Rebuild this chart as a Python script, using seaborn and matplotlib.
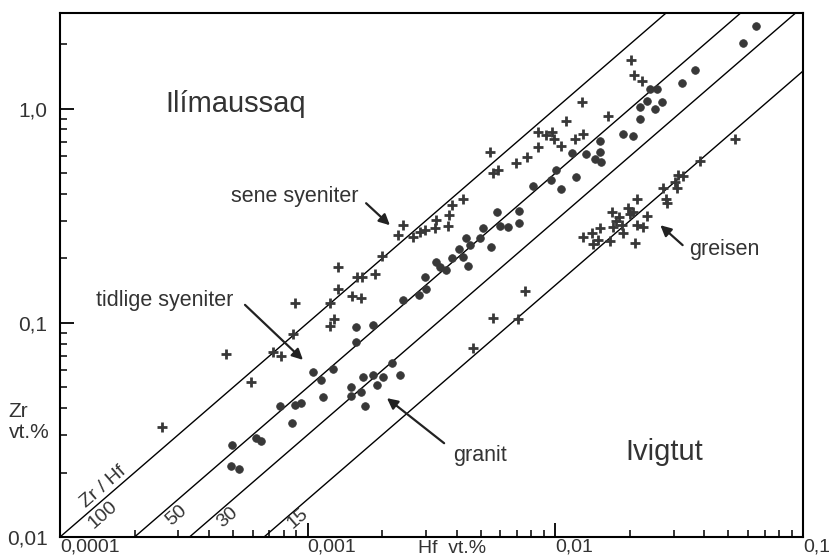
import matplotlib
matplotlib.use("Agg")
import numpy as np
import pandas as pd
import matplotlib.pyplot as plt
import matplotlib.ticker as mticker
import seaborn as sns

# Zr / Hf (vt.%)
# crosses: syenites (Ilimaussaq) + scattered granite samples
cross_hf = [2.58e-4, 4.68e-4, 5.90e-4, 7.24e-4, 7.80e-4, 8.73e-4, 8.89e-4,
            1.23e-3, 1.23e-3, 1.28e-3, 1.32e-3, 1.32e-3, 1.51e-3, 1.64e-3,
            1.58e-3, 1.66e-3, 1.87e-3, 2.00e-3, 2.32e-3, 2.43e-3, 2.66e-3,
            2.84e-3, 2.98e-3, 3.27e-3, 3.30e-3, 3.68e-3, 3.72e-3, 3.83e-3,
            4.24e-3, 5.45e-3, 5.60e-3, 5.86e-3, 6.93e-3, 7.68e-3, 8.51e-3,
            8.51e-3, 9.16e-3, 9.68e-3, 9.87e-3, 1.05e-2, 1.10e-2, 1.20e-2,
            1.29e-2, 1.28e-2, 1.63e-2, 2.02e-2, 2.08e-2, 2.24e-2, 5.31e-2,
            3.84e-2, 7.54e-3, 5.60e-3, 7.06e-3, 4.65e-3]
cross_zr = [0.0327, 0.0716, 0.0530, 0.0732, 0.0701, 0.0889, 0.124,
            0.124, 0.0968, 0.104, 0.144, 0.183, 0.134, 0.131,
            0.164, 0.164, 0.169, 0.206, 0.258, 0.287, 0.252,
            0.266, 0.272, 0.278, 0.303, 0.284, 0.320, 0.356,
            0.380, 0.630, 0.502, 0.519, 0.560, 0.597, 0.664,
            0.781, 0.756, 0.781, 0.724, 0.671, 0.879, 0.724,
            0.764, 1.07, 0.927, 1.69, 1.44, 1.35, 0.724,
            0.571, 0.141, 0.105, 0.104, 0.0764]

# crosses: greisen (Ivigtut)
greisen_hf = [1.29e-2, 1.41e-2, 1.42e-2, 1.49e-2, 1.51e-2, 1.66e-2, 1.69e-2,
              1.71e-2, 1.76e-2, 1.81e-2, 1.86e-2, 1.87e-2, 1.96e-2, 2.00e-2,
              2.06e-2, 2.10e-2, 2.13e-2, 2.13e-2, 2.26e-2, 2.34e-2, 2.72e-2,
              2.80e-2, 2.82e-2, 3.04e-2, 3.10e-2, 3.13e-2, 3.27e-2]
greisen_zr = [0.252, 0.264, 0.234, 0.244, 0.278, 0.242, 0.330,
              0.281, 0.300, 0.313, 0.287, 0.264, 0.345, 0.323,
              0.330, 0.236, 0.380, 0.287, 0.281, 0.316, 0.428,
              0.380, 0.364, 0.456, 0.428, 0.492, 0.486]

# filled circles
circle_hf = [4.94e-4, 4.90e-4, 5.28e-4, 6.18e-4, 6.48e-4, 7.73e-4, 8.65e-4,
             8.89e-4, 9.40e-4, 1.05e-3, 1.13e-3, 1.15e-3, 1.26e-3, 1.57e-3,
             1.57e-3, 1.84e-3, 1.50e-3, 1.50e-3, 1.64e-3, 1.67e-3, 1.70e-3,
             1.84e-3, 2.01e-3, 1.91e-3, 2.19e-3, 2.36e-3, 2.43e-3, 2.81e-3,
             3.00e-3, 2.98e-3, 3.42e-3, 3.61e-3, 3.83e-3, 4.08e-3, 4.36e-3,
             4.44e-3, 4.24e-3, 4.52e-3, 4.96e-3, 5.10e-3, 5.50e-3, 5.81e-3,
             5.97e-3, 6.44e-3, 7.13e-3, 7.13e-3, 8.12e-3, 9.59e-3, 1.01e-2,
             1.05e-2, 1.21e-2, 1.17e-2, 1.33e-2, 1.51e-2, 1.51e-2, 1.53e-2,
             1.87e-2, 2.06e-2, 2.20e-2, 2.20e-2, 2.34e-2, 2.52e-2, 2.69e-2,
             2.41e-2, 2.57e-2, 3.24e-2, 3.66e-2, 5.71e-2, 6.46e-2, 3.30e-3,
             1.45e-2]
circle_zr = [0.0269, 0.0215, 0.0208, 0.0290, 0.0281, 0.0409, 0.0341,
             0.0414, 0.0423, 0.0590, 0.0542, 0.0451, 0.0610, 0.0815,
             0.0958, 0.0979, 0.0502, 0.0456, 0.0476, 0.0559, 0.0409,
             0.0571, 0.0559, 0.0513, 0.0650, 0.0571, 0.128, 0.135,
             0.144, 0.164, 0.183, 0.177, 0.201, 0.222, 0.249,
             0.185, 0.203, 0.231, 0.249, 0.278, 0.226, 0.330,
             0.284, 0.281, 0.293, 0.334, 0.437, 0.466, 0.519,
             0.423, 0.481, 0.623, 0.617, 0.708, 0.630, 0.565,
             0.764, 0.748, 0.898, 1.02, 1.09, 1.00, 1.08,
             1.24, 1.24, 1.32, 1.51, 2.03, 2.44, 0.193,
             0.583]

ratios = [100, 50, 30, 15]
ratio_labels = ["100", "50", "30", "15"]

x_ticks = [1e-4, 1e-3, 1e-2, 1e-1]
x_ticklabels = ["0,0001", "0,001", "0,01", "0,1"]
y_ticks = [0.01, 0.1, 1.0]
y_ticklabels = ["0,01", "0,1", "1,0"]

sns.set_style("ticks")
plt.rcParams["font.family"] = ["Liberation Sans", "DejaVu Sans"]

fig = plt.figure(figsize=(8.3, 5.6), dpi=100)
ax = fig.add_axes([60 / 830, 23 / 560, 743 / 830, 524 / 560])
ax.set_xscale("log")
ax.set_yscale("log")
ax.set_xlim(1e-4, 1e-1)
ax.set_ylim(0.01, 2.8)

# constant Zr/Hf lines
hf_line = np.array([1e-4, 1e-1])
for r in ratios:
    sns.lineplot(x=hf_line, y=r * hf_line, ax=ax, color="black", lw=1.0)

ink = "#383838"
crosses = pd.DataFrame({"Hf": cross_hf + greisen_hf, "Zr": cross_zr + greisen_zr})
circles = pd.DataFrame({"Hf": circle_hf, "Zr": circle_zr})
sns.scatterplot(data=crosses, x="Hf", y="Zr", ax=ax, marker="+", s=55,
                color=ink, linewidth=2.0, zorder=3)
sns.scatterplot(data=circles, x="Hf", y="Zr", ax=ax, marker="o", s=30,
                color=ink, edgecolor=ink, linewidth=0.6, zorder=3)

# ticks
ax.xaxis.set_major_locator(mticker.FixedLocator(x_ticks))
ax.xaxis.set_major_formatter(mticker.FixedFormatter(x_ticklabels))
ax.yaxis.set_major_locator(mticker.FixedLocator(y_ticks))
ax.yaxis.set_major_formatter(mticker.FixedFormatter(y_ticklabels))
ax.xaxis.set_minor_locator(mticker.LogLocator(base=10, subs=range(2, 10)))
ax.yaxis.set_minor_locator(mticker.LogLocator(base=10, subs=range(2, 10)))
ax.xaxis.set_minor_formatter(mticker.NullFormatter())
ax.yaxis.set_minor_formatter(mticker.NullFormatter())
ax.tick_params(which="major", direction="in", length=10, width=1.3,
               color="black", labelcolor="#333333")
ax.tick_params(which="minor", direction="in", length=5, width=1.1, color="black")
ax.tick_params(axis="x", pad=1, labelsize=14)
ax.tick_params(axis="y", pad=9, labelsize=15)
for lab in ax.get_xticklabels():
    lab.set_horizontalalignment("left")
for sp in ax.spines.values():
    sp.set_visible(True)
    sp.set_linewidth(1.5)
    sp.set_color("black")
ax.set_xlabel("")
ax.set_ylabel("")

txt = "#333333"
ax.text(-0.069, 0.219, "Zr\nvt.%", transform=ax.transAxes, ha="left",
        va="center", fontsize=15, color=txt, linespacing=1.1)
ax.text(0.528, -0.022, "Hf  vt.%", transform=ax.transAxes, ha="center",
        va="center", fontsize=14, color=txt)

ax.text(0.237, 0.826, "Ilímaussaq", transform=ax.transAxes, ha="center",
        va="center", fontsize=21, color=txt)
ax.text(0.813, 0.162, "Ivigtut", transform=ax.transAxes, ha="center",
        va="center", fontsize=21, color=txt)

ax.text(0.316, 0.649, "sene syeniter", transform=ax.transAxes, ha="center",
        va="center", fontsize=15.5, color=txt)
ax.text(0.141, 0.452, "tidlige syeniter", transform=ax.transAxes, ha="center",
        va="center", fontsize=15.5, color=txt)
ax.text(0.894, 0.548, "greisen", transform=ax.transAxes, ha="center",
        va="center", fontsize=15.5, color=txt)
ax.text(0.565, 0.156, "granit", transform=ax.transAxes, ha="center",
        va="center", fontsize=15.5, color=txt)

arrows = [((0.412, 0.637), (0.444, 0.595)),
          ((0.249, 0.443), (0.327, 0.338)),
          ((0.838, 0.557), (0.808, 0.595)),
          ((0.517, 0.179), (0.440, 0.265))]
for tail, head in arrows:
    ax.annotate("", xy=head, xytext=tail, xycoords="axes fraction",
                textcoords="axes fraction",
                arrowprops=dict(arrowstyle="-|>", color="#222222", lw=1.6,
                                mutation_scale=16, shrinkA=0, shrinkB=0))

# line labels along the ratio lines
ax.text(0.058, 0.095, "Zr / Hf", transform=ax.transAxes, ha="center",
        va="center", rotation=41, fontsize=14, color=txt)
label_pos = [(0.058, 0.042), (0.157, 0.042), (0.225, 0.038), (0.320, 0.036)]
for (fx, fy), lab in zip(label_pos, ratio_labels):
    ax.text(fx, fy, lab, transform=ax.transAxes, ha="center", va="center",
            rotation=41, fontsize=14, color=txt)

fig.savefig("out.png", dpi=100)
